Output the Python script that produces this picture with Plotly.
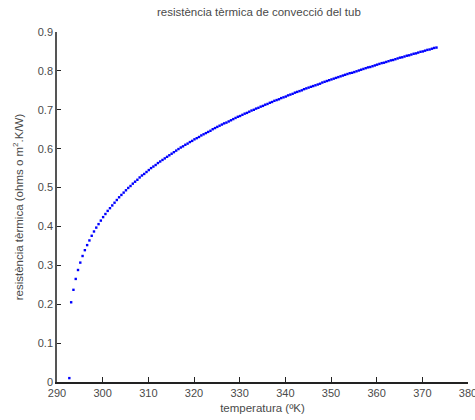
import plotly.graph_objects as go

temperatura = [292.7,
    293.1, 293.6, 294.1, 294.6, 295.1, 295.6, 296.1, 296.6, 297.1, 297.6,
    298.1, 298.6, 299.1, 299.6, 300.1, 300.6, 301.1, 301.6, 302.1, 302.6,
    303.1, 303.6, 304.1, 304.6, 305.1, 305.6, 306.1, 306.6, 307.1, 307.6,
    308.1, 308.6, 309.1, 309.6, 310.1, 310.6, 311.1, 311.6, 312.1, 312.6,
    313.1, 313.6, 314.1, 314.6, 315.1, 315.6, 316.1, 316.6, 317.1, 317.6,
    318.1, 318.6, 319.1, 319.6, 320.1, 320.6, 321.1, 321.6, 322.1, 322.6,
    323.1, 323.6, 324.1, 324.6, 325.1, 325.6, 326.1, 326.6, 327.1, 327.6,
    328.1, 328.6, 329.1, 329.6, 330.1, 330.6, 331.1, 331.6, 332.1, 332.6,
    333.1, 333.6, 334.1, 334.6, 335.1, 335.6, 336.1, 336.6, 337.1, 337.6,
    338.1, 338.6, 339.1, 339.6, 340.1, 340.6, 341.1, 341.6, 342.1, 342.6,
    343.1, 343.6, 344.1, 344.6, 345.1, 345.6, 346.1, 346.6, 347.1, 347.6,
    348.1, 348.6, 349.1, 349.6, 350.1, 350.6, 351.1, 351.6, 352.1, 352.6,
    353.1, 353.6, 354.1, 354.6, 355.1, 355.6, 356.1, 356.6, 357.1, 357.6,
    358.1, 358.6, 359.1, 359.6, 360.1, 360.6, 361.1, 361.6, 362.1, 362.6,
    363.1, 363.6, 364.1, 364.6, 365.1, 365.6, 366.1, 366.6, 367.1, 367.6,
    368.1, 368.6, 369.1, 369.6, 370.1, 370.6, 371.1, 371.6, 372.1, 372.6,
    373.1]

resistencia = [0.010,
    0.205, 0.237, 0.265, 0.288, 0.307, 0.324, 0.339, 0.352, 0.364, 0.376,
    0.387, 0.397, 0.406, 0.415, 0.424, 0.432, 0.440, 0.447, 0.454, 0.461,
    0.468, 0.475, 0.481, 0.487, 0.493, 0.499, 0.504, 0.510, 0.515, 0.520,
    0.526, 0.531, 0.535, 0.540, 0.545, 0.550, 0.554, 0.558, 0.563, 0.567,
    0.571, 0.575, 0.579, 0.583, 0.587, 0.591, 0.595, 0.599, 0.603, 0.606,
    0.610, 0.613, 0.617, 0.620, 0.624, 0.627, 0.630, 0.634, 0.637, 0.640,
    0.643, 0.646, 0.650, 0.653, 0.656, 0.659, 0.662, 0.665, 0.667, 0.670,
    0.673, 0.676, 0.679, 0.682, 0.684, 0.687, 0.690, 0.692, 0.695, 0.698,
    0.700, 0.703, 0.705, 0.708, 0.710, 0.713, 0.715, 0.718, 0.720, 0.723,
    0.725, 0.727, 0.730, 0.732, 0.734, 0.737, 0.739, 0.741, 0.744, 0.746,
    0.748, 0.750, 0.753, 0.755, 0.757, 0.759, 0.761, 0.763, 0.765, 0.767,
    0.770, 0.772, 0.774, 0.776, 0.778, 0.780, 0.782, 0.784, 0.786, 0.788,
    0.790, 0.792, 0.794, 0.795, 0.797, 0.799, 0.801, 0.803, 0.805, 0.807,
    0.809, 0.810, 0.812, 0.814, 0.816, 0.818, 0.820, 0.821, 0.823, 0.825,
    0.827, 0.828, 0.830, 0.832, 0.834, 0.835, 0.837, 0.839, 0.840, 0.842,
    0.844, 0.845, 0.847, 0.849, 0.850, 0.852, 0.854, 0.855, 0.857, 0.859,
    0.860]

x_ticks = [290, 300, 310, 320, 330, 340, 350, 360, 370, 380]
y_ticks = [0, 0.1, 0.2, 0.3, 0.4, 0.5, 0.6, 0.7, 0.8, 0.9]

titol = "resistència tèrmica de convecció del tub"
titol_x = "temperatura (ºK)"
titol_y = "resistència tèrmica (ohms o m<sup>2</sup>.K/W)"

FONT = "Liberation Sans, Arial, sans-serif"
TXT = "#4a4a4a"

fig = go.Figure()
fig.add_trace(go.Scatter(
    x=temperatura, y=resistencia, mode="markers",
    marker=dict(color="#0000ff", size=2.4, symbol="square", line=dict(width=0)),
    showlegend=False,
))

fig.update_layout(
    width=475, height=420,
    margin=dict(l=57, r=7, t=32, b=38),
    paper_bgcolor="white", plot_bgcolor="white",
    font=dict(family=FONT, size=11, color=TXT),
    title=dict(text=titol, x=0.545, xanchor="center", y=0.972, yanchor="middle",
               font=dict(family=FONT, size=11.5, color=TXT)),
    xaxis=dict(
        range=[290, 380], tickvals=x_ticks, ticktext=[str(v) for v in x_ticks],
        automargin=False, ticklabeloverflow="allow",
        showgrid=False, zeroline=False, showline=True, linecolor="#222222", linewidth=1.5,
        ticks="inside", ticklen=5, tickcolor="#222222", tickwidth=1,
        tickfont=dict(size=11, color=TXT),
        title=dict(text=titol_x, standoff=6, font=dict(size=11.5, color=TXT)),
    ),
    yaxis=dict(
        range=[0, 0.9], tickvals=y_ticks, ticktext=[str(v) for v in y_ticks],
        automargin=False, ticklabeloverflow="allow",
        showgrid=False, zeroline=False, showline=True, linecolor="#555555", linewidth=1.5,
        ticks="inside", ticklen=4, tickcolor="#222222", tickwidth=1,
        tickfont=dict(size=11, color=TXT),
        title=dict(text=titol_y, standoff=12, font=dict(size=11.5, color=TXT)),
    ),
)

fig.write_html("out.html", config={"displayModeBar": False},
               post_script="document.body.style.margin='0';")
